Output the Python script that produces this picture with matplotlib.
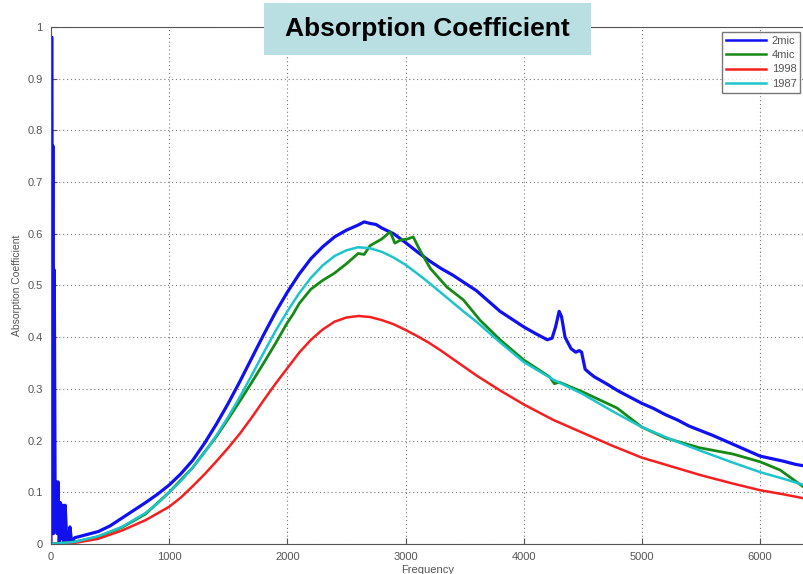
import matplotlib.pyplot as plt
from matplotlib.patches import Rectangle

# 2mic
blue_f = [0, 4, 8, 12, 16, 20, 28, 36, 44, 52, 60, 70, 80, 90, 100, 110, 120, 135, 150, 160, 175,
          200, 300, 400, 500, 600, 700, 800, 900, 1000, 1100, 1200, 1300, 1400, 1500, 1600, 1700,
          1800, 1900, 2000, 2100, 2200, 2300, 2400, 2500, 2600, 2650, 2700, 2750, 2800, 2900, 3000,
          3100, 3200, 3300, 3400, 3500, 3600, 3700, 3800, 3900, 4000, 4100, 4200, 4240, 4270, 4300,
          4320, 4350, 4400, 4440, 4470, 4490, 4520, 4560, 4600, 4700, 4800, 4900, 5000, 5100, 5200,
          5300, 5400, 5500, 5600, 5700, 5800, 5900, 6000, 6100, 6200, 6300, 6400]
blue_v = [0.0, 0.98, 0.98, 0.05, 0.77, 0.02, 0.53, 0.03, 0.12, 0.02, 0.12, 0.0, 0.08, 0.01, 0.075,
          0.0, 0.075, 0.0, 0.005, 0.033, 0.004,
          0.012, 0.018, 0.024, 0.035, 0.05, 0.065, 0.08, 0.096, 0.114, 0.136, 0.162, 0.195, 0.232,
          0.272, 0.315, 0.36, 0.405, 0.448, 0.487, 0.522, 0.552, 0.575, 0.594, 0.607, 0.617, 0.623,
          0.62, 0.618, 0.611, 0.6, 0.583, 0.565, 0.548, 0.533, 0.52, 0.505, 0.49, 0.47, 0.45, 0.435,
          0.42, 0.407, 0.395, 0.398, 0.42, 0.45, 0.44, 0.4, 0.378, 0.371, 0.374, 0.371, 0.338,
          0.33, 0.323, 0.31, 0.296, 0.284, 0.272, 0.262, 0.25, 0.24, 0.228, 0.219, 0.21, 0.2, 0.19,
          0.18, 0.17, 0.165, 0.16, 0.154, 0.15]

# 4mic
green_f = [0, 200, 400, 600, 800, 1000, 1200, 1400, 1500, 1600, 1700, 1800, 1900, 2000, 2050,
           2100, 2200, 2300, 2400, 2500, 2600, 2650, 2700, 2800, 2870, 2910, 2960, 3020, 3065,
           3120, 3210, 3350, 3490, 3630, 3800, 4000, 4220, 4260, 4300, 4500, 4790, 5000, 5200,
           5490, 5770, 6000, 6170, 6400]
green_v = [0.0, 0.004, 0.014, 0.032, 0.058, 0.1, 0.148, 0.208, 0.242, 0.277, 0.313, 0.35, 0.388,
           0.428, 0.445, 0.465, 0.493, 0.51, 0.524, 0.542, 0.562, 0.56, 0.577, 0.59, 0.604,
           0.582, 0.588, 0.59, 0.594, 0.569, 0.533, 0.497, 0.472, 0.433, 0.395, 0.356, 0.323,
           0.31, 0.313, 0.294, 0.263, 0.226, 0.205, 0.186, 0.174, 0.159, 0.143, 0.105]

# 1998
red_f = [0, 100, 200, 400, 600, 800, 1000, 1100, 1200, 1300, 1400, 1500, 1600, 1700, 1800, 1900,
         2000, 2100, 2200, 2300, 2400, 2500, 2600, 2700, 2800, 2900, 3000, 3100, 3200, 3300, 3400,
         3500, 3600, 3800, 4000, 4250, 4500, 4750, 5000, 5250, 5500, 5750, 6000, 6200, 6400]
red_v = [0.0, 0.0, 0.002, 0.01, 0.026, 0.046, 0.072, 0.09, 0.112, 0.135, 0.16, 0.186, 0.214,
         0.245, 0.278, 0.31, 0.34, 0.37, 0.395, 0.415, 0.43, 0.438, 0.441, 0.439, 0.433, 0.425,
         0.414, 0.402, 0.389, 0.374, 0.358, 0.342, 0.326, 0.297, 0.27, 0.24, 0.215, 0.19, 0.167,
         0.15, 0.133, 0.118, 0.104, 0.096, 0.087]

# 1987
cyan_f = [0, 200, 400, 600, 800, 900, 1000, 1100, 1200, 1300, 1400, 1500, 1600, 1700, 1800, 1900,
          2000, 2100, 2200, 2300, 2400, 2500, 2600, 2700, 2800, 2900, 3000, 3100, 3200, 3300, 3400,
          3500, 3600, 3800, 4000, 4250, 4500, 4750, 5000, 5250, 5500, 5750, 6000, 6200, 6400]
cyan_v = [0.0, 0.004, 0.015, 0.033, 0.06, 0.078, 0.1, 0.122, 0.148, 0.177, 0.21, 0.246, 0.285,
          0.327, 0.37, 0.412, 0.45, 0.485, 0.515, 0.539, 0.557, 0.568, 0.574, 0.572, 0.565, 0.554,
          0.54, 0.523, 0.505, 0.486, 0.467, 0.448, 0.43, 0.39, 0.352, 0.318, 0.29, 0.257, 0.226,
          0.202, 0.18, 0.159, 0.139, 0.126, 0.112]

labels = ['2mic', '4mic', '1998', '1987']
xticks = [0, 1000, 2000, 3000, 4000, 5000, 6000]
yticks = [0, 0.1, 0.2, 0.3, 0.4, 0.5, 0.6, 0.7, 0.8, 0.9, 1]
ytick_labels = ['0', '0.1', '0.2', '0.3', '0.4', '0.5', '0.6', '0.7', '0.8', '0.9', '1']


def main():
    plt.rcParams['font.family'] = ['Liberation Sans', 'DejaVu Sans']
    fig = plt.figure(figsize=(8.04, 5.74), dpi=100)
    ax = fig.add_axes([0.0634, 0.0523, 0.9366, 0.9007])

    ax.plot(blue_f, blue_v, color='#1010f0', lw=2.3, label=labels[0])
    ax.plot(green_f, green_v, color='#168a16', lw=2.0, label=labels[1])
    ax.plot(red_f, red_v, color='#f42020', lw=1.8, label=labels[2])
    ax.plot(cyan_f, cyan_v, color='#1ec4cc', lw=1.8, label=labels[3])

    ax.set_xlim(0, 6372)
    ax.set_ylim(0, 1)
    ax.set_xticks(xticks)
    ax.set_yticks(yticks)
    ax.set_yticklabels(ytick_labels)
    ax.tick_params(direction='in', length=4, colors='#555555', labelsize=8, pad=6)
    ax.grid(True, linestyle=(0, (1, 2.5)), color='#777777', lw=0.8)
    for side in ['top', 'left', 'bottom']:
        ax.spines[side].set_color('#555555')
    ax.spines['right'].set_visible(False)
    ax.set_xlabel('Frequency', fontsize=8, color='#555555', labelpad=2)
    ax.set_ylabel('Absorption Coefficient', fontsize=7.5, color='#555555', labelpad=4)

    leg = ax.legend(loc='upper right', bbox_to_anchor=(0.995, 0.99), fontsize=8,
                    frameon=True, fancybox=False, edgecolor='#555555', handlelength=3.6,
                    handletextpad=0.5, labelspacing=0.38, borderpad=0.35, borderaxespad=0)
    for t in leg.get_texts():
        t.set_color('#555555')
    for line in leg.get_lines():
        line.set_linewidth(1.8)

    # title box
    fig.patches.append(Rectangle((0.3284, 0.9042), 0.4067, 0.0906, transform=fig.transFigure,
                                 facecolor='#b9dfe3', edgecolor='none', zorder=5))
    fig.text(0.532, 0.949, 'Absorption Coefficient', fontsize=19, fontweight='bold',
             ha='center', va='center', color='black', zorder=6)

    fig.savefig('out.png', dpi=100)


if __name__ == '__main__':
    main()
